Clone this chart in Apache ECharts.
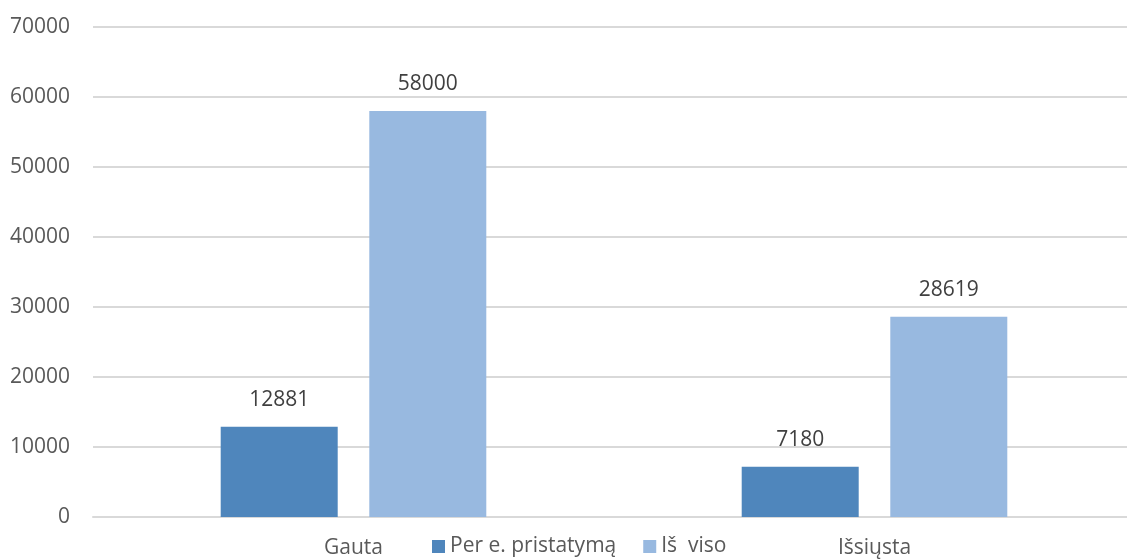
<!DOCTYPE html>
<html>
<head>
<meta charset="utf-8">
<script src="https://cdn.jsdelivr.net/npm/echarts@6/dist/echarts.min.js"></script>
<style>
  html, body { margin: 0; padding: 0; background: #fff; overflow: hidden; }
  #main { width: 1135px; height: 559px; }
</style>
</head>
<body>
<div id="main"></div>
<script>
var categories = ["Gauta", "Išsiųsta"];
var seriesNames = ["Per e. pristatymą", "Iš  viso"];
var perEPristatyma = [12881, 7180];
var isViso = [58000, 28619];
var darkColor = "#4f86bc";
var lightColor = "#98b9e0";
var fontFamily = "'Open Sans', 'DejaVu Sans', sans-serif";
var fontSize = 21;

// plot area runs a little past the right edge of the window, as in the original
var myChart = echarts.init(document.getElementById("main"));
var labelStyle = {
  show: true,
  position: "top",
  distance: 16,
  color: "#404040",
  fontSize: fontSize,
  fontFamily: fontFamily
};
myChart.setOption({
  animation: false,
  textStyle: { fontFamily: fontFamily },
  grid: {
    left: 93,
    right: 0,
    top: 27,
    bottom: 42
  },
  legend: {
    data: seriesNames,
    left: 427,
    top: 531,
    itemWidth: 13,
    itemHeight: 13,
    itemGap: 27,
    icon: "rect",
    textStyle: { color: "#595959", fontSize: fontSize, fontFamily: fontFamily }
  },
  xAxis: {
    type: "category",
    data: categories,
    axisLine: { show: true, lineStyle: { color: "#d9d9d9", width: 2 } },
    axisTick: { show: false },
    axisLabel: {
      color: "#595959",
      fontSize: fontSize,
      margin: 21,
      fontFamily: fontFamily
    }
  },
  yAxis: {
    type: "value",
    min: 0,
    max: 70000,
    interval: 10000,
    axisLine: { show: false },
    axisTick: { show: false },
    axisLabel: {
      color: "#595959",
      fontSize: fontSize,
      margin: 23,
      fontFamily: fontFamily,
      formatter: function(v) {
        return String(v);
      }
    },
    splitLine: { lineStyle: { color: "#d9d9d9", width: 2 } }
  },
  series: [
    {
      name: seriesNames[0],
      type: "bar",
      data: perEPristatyma,
      barWidth: 117,
      barGap: "27%",
      itemStyle: { color: darkColor },
      label: labelStyle
    },
    {
      name: seriesNames[1],
      type: "bar",
      data: isViso,
      barWidth: 117,
      barGap: "27%",
      itemStyle: { color: lightColor },
      label: labelStyle
    }
  ]
});
</script>
</body>
</html>
